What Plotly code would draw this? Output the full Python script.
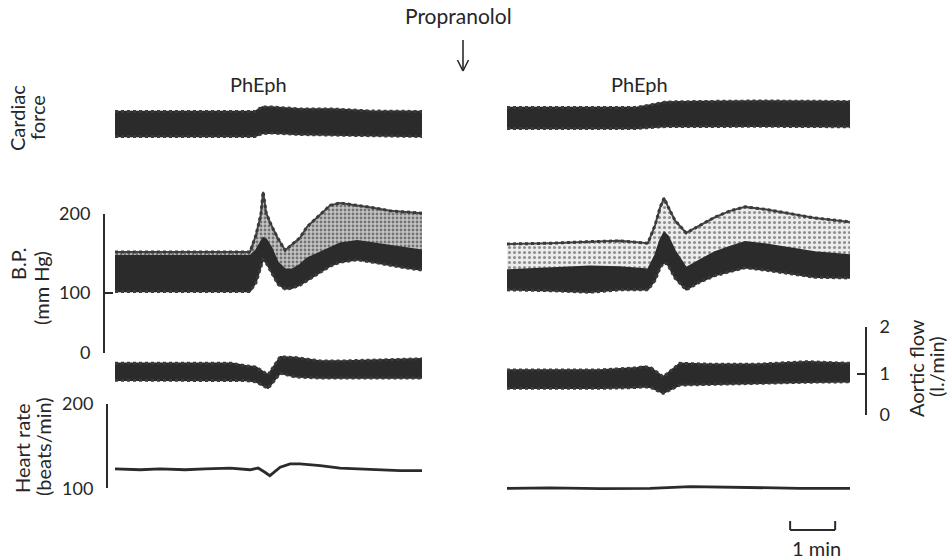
import plotly.graph_objects as go

W, H = 948, 559

# ---------------- DATA (time in minutes from start of each record) ----------------
# Cardiac force (arbitrary units) - envelope of the pulsatile trace
t_cf_L = [0, 3.11, 3.27, 3.49, 4.11, 4.84, 5.67, 6.82]
cf_hi_L = [10, 10, 11.8, 11.8, 11.0, 11.0, 10.2, 10.0]
cf_lo_L = [0, 0, 1.2, 1.4, 0.8, 0.6, 0.2, 0]
t_cf_R = [0, 2.87, 3.18, 3.53, 4.29, 5.62, 7.62]
cf_hi_R = [11.6, 11.6, 12.6, 13.8, 14.0, 14.2, 14.0]
cf_lo_R = [3.2, 3.2, 3.6, 4.0, 4.0, 4.1, 3.9]

# Blood pressure (mm Hg): systolic, upper edge of dense part, diastolic
t_bp_L = [0, 3.0, 3.13, 3.24, 3.29, 3.36, 3.47, 3.62, 3.78, 3.93, 4.11, 4.27, 4.49, 4.78, 5.0, 5.38, 5.73, 6.11, 6.44, 6.82]
bp_sys_L = [152, 152, 173, 199, 228, 201, 186, 169, 154, 161, 170, 184, 196, 211, 214, 211, 208, 204, 203, 201]
bp_mid_L = [147, 147, 154, 165, 170, 168, 158, 139, 130, 130, 136, 144, 150, 158, 163, 166, 163, 160, 157, 154]
bp_dia_L = [102, 102, 113, 135, 142, 138, 127, 111, 105, 106, 110, 116, 124, 134, 139, 142, 139, 135, 132, 129]

t_bp_R = [0, 0.96, 1.84, 2.51, 3.13, 3.29, 3.4, 3.49, 3.58, 3.73, 3.98, 4.29, 4.62, 4.96, 5.29, 5.73, 6.29, 6.84, 7.62]
bp_sys_R = [162, 163, 165, 166, 163, 186, 208, 220, 209, 192, 176, 186, 196, 204, 209, 206, 200, 195, 190]
bp_mid_R = [129, 132, 134, 133, 130, 148, 167, 177, 172, 154, 132, 142, 152, 159, 165, 162, 157, 152, 148]
bp_dia_R = [104, 103, 101, 104, 104, 116, 132, 139, 135, 119, 104, 114, 122, 127, 132, 129, 124, 120, 119]

# Aortic flow (l./min) envelope
t_af_L = [0, 2.6, 2.91, 3.13, 3.4, 3.67, 4.0, 4.56, 5.09, 5.62, 6.18, 6.82]
af_hi_L = [1.26, 1.26, 1.20, 1.17, 0.98, 1.42, 1.40, 1.32, 1.32, 1.34, 1.36, 1.37]
af_lo_L = [0.85, 0.85, 0.84, 0.81, 0.65, 1.02, 0.93, 0.90, 0.90, 0.91, 0.90, 0.90]
t_af_R = [0, 2.07, 2.89, 3.04, 3.2, 3.47, 3.84, 4.51, 5.58, 6.67, 7.62]
af_hi_R = [1.10, 1.10, 1.15, 1.18, 1.15, 0.93, 1.26, 1.24, 1.24, 1.30, 1.26]
af_lo_R = [0.65, 0.65, 0.67, 0.69, 0.67, 0.53, 0.73, 0.75, 0.77, 0.80, 0.81]

# Heart rate (beats/min)
t_hr_L = [0, 0.56, 1.0, 1.56, 2.0, 2.56, 3.0, 3.18, 3.33, 3.44, 3.67, 3.89, 4.11, 4.56, 5.0, 5.44, 5.89, 6.33, 6.82]
hr_L = [123, 122, 123, 122, 123, 124, 122, 124, 119, 115, 125, 129, 129, 127, 124, 123, 122, 121, 121]
t_hr_R = [0, 0.96, 2.07, 3.18, 4.07, 4.73, 5.62, 6.51, 7.62]
hr_R = [100, 100.5, 99.5, 100, 102, 101.5, 100.5, 100, 100]

bp_ticks = [0, 100, 200]
af_ticks = [0, 1, 2]
hr_ticks = [100, 200]
scale_bar_min = 1

# ---------------- LAYOUT HELPERS (pixel geometry) ----------------
def pdom(top, bot):
    return [1 - bot / H, 1 - top / H]

def lin(v_ref, px_ref, ppu):
    return lambda px: v_ref + (px_ref - px) / ppu

cf_v = lin(0, 136.5, 2.5)
bp_v = lin(100, 293, 0.79)
af_v = lin(0, 415, 41)
hr_v = lin(100, 488.3, 0.843)

DARK = "#2b2b2b"
TXT = "#262626"
FONT = "Lato"

fig = go.Figure()

def band(t, lo, hi, xa, ya, fill=DARK):
    fig.add_trace(go.Scatter(x=t, y=lo, xaxis=xa, yaxis=ya, mode="lines",
                             line=dict(color=DARK, width=1.5), showlegend=False, hoverinfo="skip"))
    fig.add_trace(go.Scatter(x=t, y=hi, xaxis=xa, yaxis=ya, mode="lines",
                             line=dict(color=DARK, width=1.5), fill="tonexty", fillcolor=fill,
                             showlegend=False, hoverinfo="skip"))

def serrate(t, y, xa, ya):
    fig.add_trace(go.Scatter(x=t, y=y, xaxis=xa, yaxis=ya, mode="lines",
                             line=dict(color="#3a3a3a", width=3, dash="dot"),
                             showlegend=False, hoverinfo="skip"))

# cardiac force
band(t_cf_L, cf_lo_L, cf_hi_L, "x", "y")
band(t_cf_R, cf_lo_R, cf_hi_R, "x2", "y")
for t, lo, hi, xa in [(t_cf_L, cf_lo_L, cf_hi_L, "x"), (t_cf_R, cf_lo_R, cf_hi_R, "x2")]:
    serrate(t, hi, xa, "y")
    serrate(t, lo, xa, "y")

# blood pressure: dense part + speckled systolic part
patL = dict(shape=".", fgcolor="#222222", bgcolor="#c4c4c4", size=4, solidity=0.4)
patR = dict(shape=".", fgcolor="#333333", bgcolor="#ececec", size=5, solidity=0.3)
band(t_bp_L, bp_dia_L, bp_mid_L, "x", "y2")
fig.add_trace(go.Scatter(x=t_bp_L, y=bp_sys_L, xaxis="x", yaxis="y2", mode="lines",
                         line=dict(color="#444444", width=2), fill="tonexty", fillcolor="#c4c4c4",
                         fillpattern=patL, showlegend=False, hoverinfo="skip"))
band(t_bp_R, bp_dia_R, bp_mid_R, "x2", "y2")
fig.add_trace(go.Scatter(x=t_bp_R, y=bp_sys_R, xaxis="x2", yaxis="y2", mode="lines",
                         line=dict(color="#444444", width=2), fill="tonexty", fillcolor="#ececec",
                         fillpattern=patR, showlegend=False, hoverinfo="skip"))
serrate(t_bp_L, bp_sys_L, "x", "y2")
serrate(t_bp_R, bp_sys_R, "x2", "y2")
serrate(t_bp_L, bp_dia_L, "x", "y2")
serrate(t_bp_R, bp_dia_R, "x2", "y2")

# aortic flow
band(t_af_L, af_lo_L, af_hi_L, "x", "y4")
band(t_af_R, af_lo_R, af_hi_R, "x2", "y4")
for t, lo, hi, xa in [(t_af_L, af_lo_L, af_hi_L, "x"), (t_af_R, af_lo_R, af_hi_R, "x2")]:
    serrate(t, hi, xa, "y4")
    serrate(t, lo, xa, "y4")

# heart rate
fig.add_trace(go.Scatter(x=t_hr_L, y=hr_L, xaxis="x", yaxis="y6", mode="lines",
                         line=dict(color=DARK, width=2.8), showlegend=False, hoverinfo="skip"))
fig.add_trace(go.Scatter(x=t_hr_R, y=hr_R, xaxis="x2", yaxis="y6", mode="lines",
                         line=dict(color=DARK, width=2.8), showlegend=False, hoverinfo="skip"))

# dummy traces so that ruler axes are drawn
for ya in ["y3", "y5", "y7"]:
    fig.add_trace(go.Scatter(x=[None], y=[None], xaxis="x", yaxis=ya, mode="lines",
                             showlegend=False, hoverinfo="skip"))

ruler = dict(showline=True, linewidth=2, linecolor=DARK, ticks="inside", ticklen=8,
             tickwidth=2, tickcolor=DARK, showgrid=False, zeroline=False,
             tickfont=dict(family=FONT, size=18, color=TXT), ticklabelstandoff=9,
             anchor="free", fixedrange=True, automargin=False)
hidden = dict(visible=False, showgrid=False, zeroline=False, fixedrange=True, automargin=False)

bp_top, bp_bot = 214, 353
af_top, af_bot = 327, 415
hr_top, hr_bot = 404, 488.3

fig.update_layout(
    width=W, height=H, margin=dict(l=0, r=0, t=0, b=0, pad=0, autoexpand=False),
    paper_bgcolor="white", plot_bgcolor="rgba(0,0,0,0)",
    xaxis=dict(domain=[115 / W, 422 / W], range=[0, 6.82], **hidden),
    xaxis2=dict(domain=[507 / W, 850 / W], range=[0, 7.62], **hidden),
    yaxis=dict(domain=pdom(92, 150), range=[cf_v(150), cf_v(92)], anchor="x", **hidden),
    yaxis2=dict(domain=pdom(180, 305), range=[bp_v(305), bp_v(180)], anchor="x", **hidden),
    yaxis3=dict(domain=pdom(bp_top, bp_bot), range=[bp_v(bp_bot), bp_v(bp_top)],
                tickvals=[bp_v(bp_bot), bp_ticks[1], bp_ticks[2]],
                ticktext=[str(v) for v in bp_ticks], position=104 / W, **ruler),
    yaxis4=dict(domain=pdom(345, 402), range=[af_v(402), af_v(345)], anchor="x", **hidden),
    yaxis5=dict(domain=pdom(af_top, af_bot), range=[af_v(af_bot), af_v(af_top)],
                tickvals=[af_ticks[0], af_ticks[1], af_v(af_top)],
                ticktext=[str(v) for v in af_ticks], side="right", position=866 / W, **ruler),
    yaxis6=dict(domain=pdom(440, 497), range=[hr_v(497), hr_v(440)], anchor="x", **hidden),
    yaxis7=dict(domain=pdom(hr_top, hr_bot), range=[hr_ticks[0], hr_ticks[1]],
                tickvals=hr_ticks, ticktext=[str(v) for v in hr_ticks], position=107 / W, **ruler),
)

# text labels
labels = [
    ("Propranolol", 458, 16, 0, 21),
    ("PhEph", 258, 84, 0, 20),
    ("PhEph", 639, 84, 0, 20),
    ("Cardiac", 17, 118, -90, 20),
    ("force", 37, 118, -90, 20),
    ("B.P.", 18, 264, -90, 20),
    ("(mm Hg)", 41, 288, -90, 20),
    ("Heart rate", 22, 448, -90, 20),
    ("(beats/min)", 43, 447, -90, 20),
    ("Aortic flow", 916, 368, -90, 20),
    ("(l./min)", 936, 367, -90, 20),
    ("1 min", 816, 548, 0, 20),
]
for txt, px, py, ang, fs in labels:
    fig.add_annotation(text=txt, x=px / W, y=1 - py / H, xref="paper", yref="paper",
                       xanchor="center", yanchor="middle", textangle=ang, showarrow=False,
                       font=dict(family=FONT, size=fs, color=TXT))

# drug arrow
def pline(x0, y0, x1, y1, w=1.6):
    fig.add_shape(type="line", xref="paper", yref="paper", x0=x0 / W, y0=1 - y0 / H,
                  x1=x1 / W, y1=1 - y1 / H, line=dict(color=DARK, width=w))
pline(463, 40, 463, 71)
pline(457.5, 60, 463, 71)
pline(468.5, 60, 463, 71)

# 1-min scale bar, drawn in right-panel time units
sb0 = 6.29
fig.add_shape(type="line", xref="x2", yref="paper", x0=sb0, x1=sb0 + scale_bar_min,
              y0=1 - 530 / H, y1=1 - 530 / H, line=dict(color=DARK, width=2))
for xx in (sb0, sb0 + scale_bar_min):
    fig.add_shape(type="line", xref="x2", yref="paper", x0=xx, x1=xx,
                  y0=1 - 530 / H, y1=1 - 521 / H, line=dict(color=DARK, width=2))

fig.write_html("out.html", config={"displayModeBar": False},
               post_script="document.body.style.margin='0';")
